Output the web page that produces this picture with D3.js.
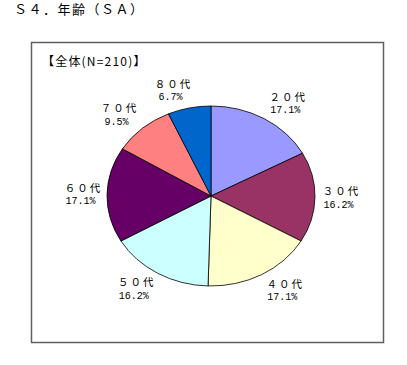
<!DOCTYPE html>
<html><head><meta charset="utf-8">
<script src="https://cdn.jsdelivr.net/npm/d3@7"></script>
<style>
html,body{margin:0;padding:0;background:#fff;}
svg{display:block;}
text{fill:#000;}
</style></head>
<body>
<script>
const categories = ["２０代","３０代","４０代","５０代","６０代","７０代","８０代"];
const values = [17.1, 16.2, 17.1, 16.2, 17.1, 9.5, 6.7];
const valueLabels = ["17.1%","16.2%","17.1%","16.2%","17.1%","9.5%","6.7%"];
const colors = ["#9999FF","#993366","#FFFFCC","#CCFFFF","#660066","#FF8080","#0066CC"];
const title = "Ｓ４．年齢（ＳＡ）";
const subtitle = "【全体(N=210)】";

const CJK = "'Noto Sans CJK JP',sans-serif";
const MONO = "'Liberation Mono','DejaVu Sans Mono',monospace";

const W = 407, H = 365;
const svg = d3.select("body").append("svg").attr("width", W).attr("height", H);

svg.append("text").attr("x", 14).attr("y", 14).style("font-family", CJK).attr("font-size", 13)
  .attr("letter-spacing", 1.5).text(title);

// frame
svg.append("rect").attr("x", 31.5).attr("y", 42.5).attr("width", 352).attr("height", 300)
  .attr("fill", "#fff").attr("stroke", "#606060").attr("stroke-width", 1.5);

svg.append("text").attr("x", 42).attr("y", 66).style("font-family", CJK).attr("font-size", 12)
  .attr("letter-spacing", 1.2).text(subtitle);

const cx = 211, cy = 196, rx = 104, ry = 90;
const pie = d3.pie().sort(null).value(d => d);
const arcs = pie(values);
const arc = d3.arc().innerRadius(0).outerRadius(rx);

const g = svg.append("g").attr("transform", `translate(${cx},${cy}) scale(1,${ry/rx})`);
g.selectAll("path").data(arcs).join("path")
  .attr("d", arc).attr("fill", (d,i) => colors[i])
  .attr("stroke", "#000").attr("stroke-width", 0.8).attr("vector-effect", "non-scaling-stroke");

const lg = svg.append("g");
arcs.forEach((d,i) => {
  const a = (d.startAngle + d.endAngle) / 2;
  const s = Math.sin(a), c = Math.cos(a);
  const px = cx + 1.2 * rx * s + Math.sign(s) * (4 + 9 * Math.abs(c));
  const py = cy - 1.2 * ry * c;
  lg.append("text").attr("x", px + 1.5).attr("y", py - 2.5).attr("text-anchor", "middle")
    .style("font-family", CJK).attr("font-size", 10.5).attr("letter-spacing", 2).text(categories[i]);
  lg.append("text").attr("x", px - 1.5).attr("y", py + 10).attr("text-anchor", "middle")
    .style("font-family", MONO).attr("font-size", 10).text(valueLabels[i]);
});
</script>
</body></html>
